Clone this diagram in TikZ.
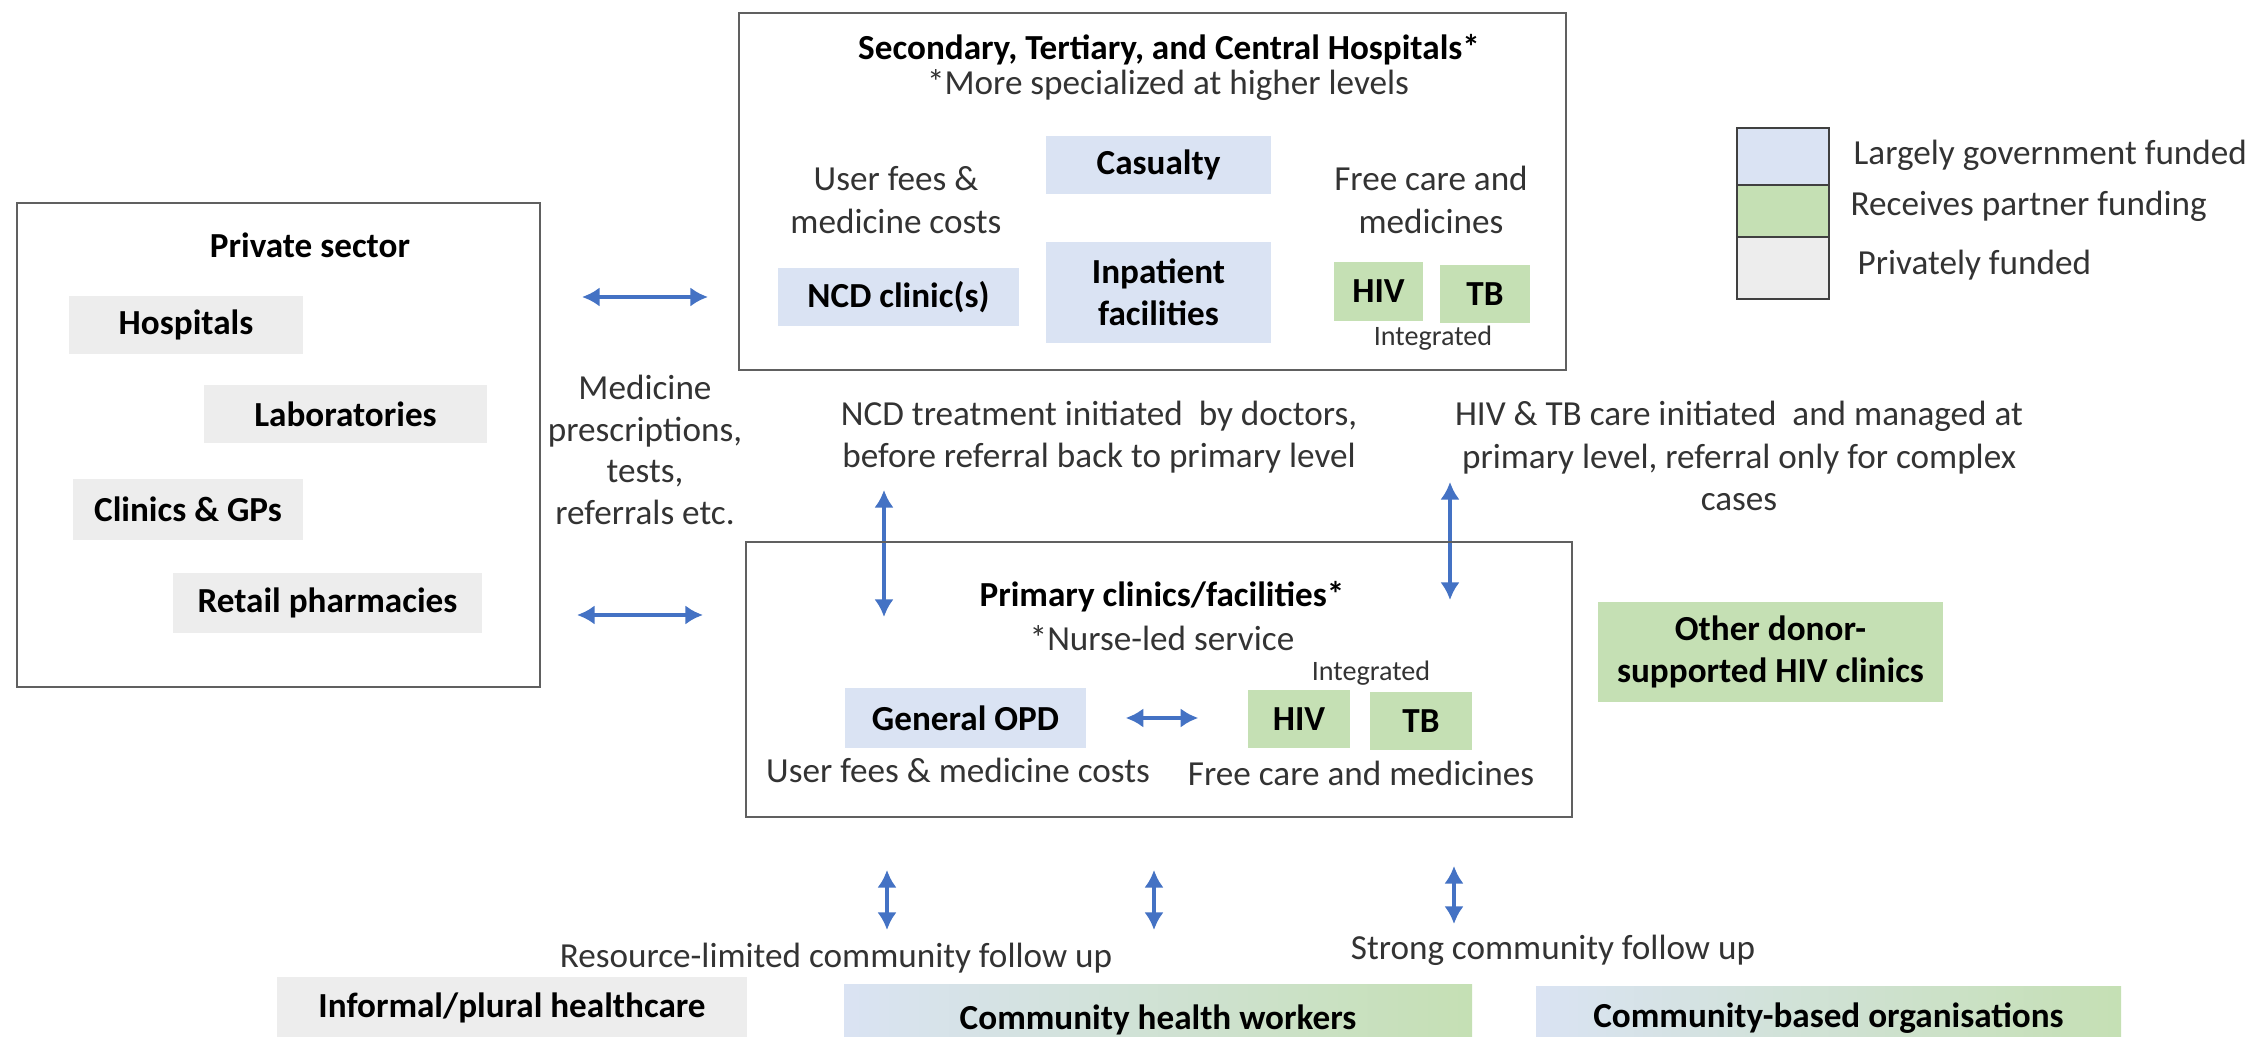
\documentclass[tikz,border=0pt]{standalone}
\usepackage{fontspec}
\setmainfont{Carlito}
\usetikzlibrary{arrows.meta}
\definecolor{govblue}{HTML}{DAE3F3}
\definecolor{partgreen}{HTML}{C5E0B4}
\definecolor{privgray}{HTML}{EDEDED}
\definecolor{boxline}{HTML}{606060}
\definecolor{legline}{HTML}{404040}
\definecolor{arrowblue}{HTML}{4472C4}
\definecolor{txtgray}{HTML}{333333}
\begin{document}
\begin{tikzpicture}[x=0.01cm,y=-0.01cm,
  every node/.style={font=\fontsize{10}{12}\selectfont, text=txtgray},
  sz/.style 2 args={minimum width=#1*0.01cm, minimum height=#2*0.01cm},
  mainbox/.style={draw=boxline, line width=0.8pt, inner sep=0},
  fbox/.style={inner sep=0, align=center, font=\fontsize{10}{12}\selectfont\bfseries, text=black},
  gov/.style={fbox, fill=govblue},
  part/.style={fbox, fill=partgreen},
  privf/.style={fbox, fill=privgray},
  legbox/.style={draw=legline, line width=0.8pt, inner sep=0},
  txtnode/.style={align=center, inner sep=0},
  boldtxt/.style={inner sep=0, font=\fontsize{10}{12}\selectfont\bfseries, text=black},
  smalltxt/.style={inner sep=0, font=\fontsize{8}{9.6}\selectfont},
  dbl/.style={draw=arrowblue, line width=1.1pt, {Latex[length=5pt,width=5.5pt]}-{Latex[length=5pt,width=5.5pt]}},
]
\useasboundingbox (0,0) rectangle (2250,1037);
\clip (0,0) rectangle (2250,1037);
\fill[white] (0,0) rectangle (2250,1037);

% ---------- Private sector ----------
\node[mainbox, sz={523}{484}] (privbox) at (278.5,445) {};
\node[boldtxt] (privtitle) at (310,245) {Private sector};
\node[privf, sz={234}{58}] (hosp) at (186,325) {Hospitals};
\node[privf, sz={283}{58}] (labs) at (345.5,414) {Laboratories};
\node[privf, sz={230}{61}] (clin) at (188,509.5) {Clinics \& GPs};
\node[privf, sz={309}{60}] (retail) at (327.5,603) {Retail pharmacies};

\node[txtnode, font=\fontsize{10}{11.9}\selectfont] (medtxt) at (645,450) {Medicine\\prescriptions,\\tests,\\referrals etc.};

\coordinate (a1l) at (582,297); \coordinate (a1r) at (708,297);
\coordinate (a2l) at (577,615); \coordinate (a2r) at (703,615);
\draw[dbl] (a1l) -- (a1r);
\draw[dbl] (a2l) -- (a2r);

% ---------- Secondary / tertiary ----------
\node[mainbox, sz={827}{357}] (sec) at (1152.5,191.5) {};
\node[boldtxt] (sectitle) at (1169,50) {Secondary, Tertiary, and Central Hospitals*};
\node[inner sep=0] (secsub) at (1168,85) {*More specialized at higher levels};
\node[txtnode] (secfee) at (896,200) {User fees \&\\medicine costs};
\node[txtnode] (secfree) at (1431,200) {Free care and\\medicines};
\node[gov, sz={225}{58}] (cas) at (1158.5,165) {Casualty};
\node[gov, sz={225}{101}] (inp) at (1158.5,292.5) {Inpatient\\facilities};
\node[gov, sz={241}{58}] (ncd) at (898.5,297) {NCD clinic(s)};
\node[part, sz={89}{59}] (hiv1) at (1378.5,291.5) {HIV};
\node[part, sz={90}{58}] (tb1) at (1485,294) {TB};
\node[smalltxt] (int1) at (1433,338) {Integrated};

% ---------- Legend ----------
\node[legbox, fill=govblue, sz={92}{57}] (lg1) at (1783,156.5) {};
\node[legbox, fill=partgreen, sz={92}{52}] (lg2) at (1783,211) {};
\node[legbox, fill=privgray, sz={92}{62}] (lg3) at (1783,268) {};
\node[inner sep=0, anchor=west] (lgt1) at (1853,155) {Largely government funded};
\node[inner sep=0, anchor=west] (lgt2) at (1850,206) {Receives partner funding};
\node[inner sep=0, anchor=west] (lgt3) at (1857,265) {Privately funded};

% ---------- Middle texts and vertical arrows ----------
\node[txtnode] (ncdtxt) at (1099,437) {NCD treatment initiated\ \ by doctors,\\before referral back to primary level};
\node[txtnode] (hivtxt) at (1739,456) {HIV \& TB care initiated\ \ and managed at\\primary level, referral only for complex\\cases};
\coordinate (ncdtop) at (884,490); \coordinate (ncdbot) at (884,617);
\coordinate (hivtop) at (1450,482); \coordinate (hivbot) at (1450,600);
\draw[dbl] (ncdtop) -- (ncdbot);
\draw[dbl] (hivtop) -- (hivbot);

% ---------- Primary ----------
\node[mainbox, sz={826}{275}] (prim) at (1159,679.5) {};
\node[boldtxt] (primtitle) at (1162,597) {Primary clinics/facilities*};
\node[inner sep=0] (primsub) at (1162,638) {*Nurse-led service};
\node[smalltxt] (int2) at (1371,673) {Integrated};
\node[gov, sz={241}{60}] (opd) at (965.5,718) {General OPD};
\node[part, sz={102}{58}] (hiv2) at (1299,719) {HIV};
\node[part, sz={102}{58}] (tb2) at (1421,721) {TB};
\draw[dbl, shorten <=0.39cm, shorten >=0.49cm] (opd.east) -- (opd.east -| hiv2.west);
\node[inner sep=0] (primfee) at (958,770) {User fees \& medicine costs};
\node[inner sep=0] (primfree) at (1361,773) {Free care and medicines};

\node[part, sz={345}{100}] (donor) at (1770.5,652) {Other donor-\\supported HIV clinics};

% ---------- Community level ----------
\coordinate (b1t) at (887,870); \coordinate (b1b) at (887,930);
\coordinate (b2t) at (1154,870); \coordinate (b2b) at (1154,930);
\coordinate (b3t) at (1454,866); \coordinate (b3b) at (1454,924);
\draw[dbl] (b1t) -- (b1b);
\draw[dbl] (b2t) -- (b2b);
\draw[dbl] (b3t) -- (b3b);
\node[inner sep=0] (reslim) at (836,958) {Resource-limited community follow up};
\node[inner sep=0] (strong) at (1553,950) {Strong community follow up};
\node[privf, sz={470}{62}] (inf) at (512,1008) {Informal/plural healthcare};
\node[fbox, sz={628}{70}, left color=govblue, right color=partgreen] (chw) at (1158,1020) {Community health workers};
\node[fbox, sz={585}{62}, left color=govblue, right color=partgreen] (cbo) at (1828.5,1018) {Community-based organisations};
\end{tikzpicture}
\end{document}
